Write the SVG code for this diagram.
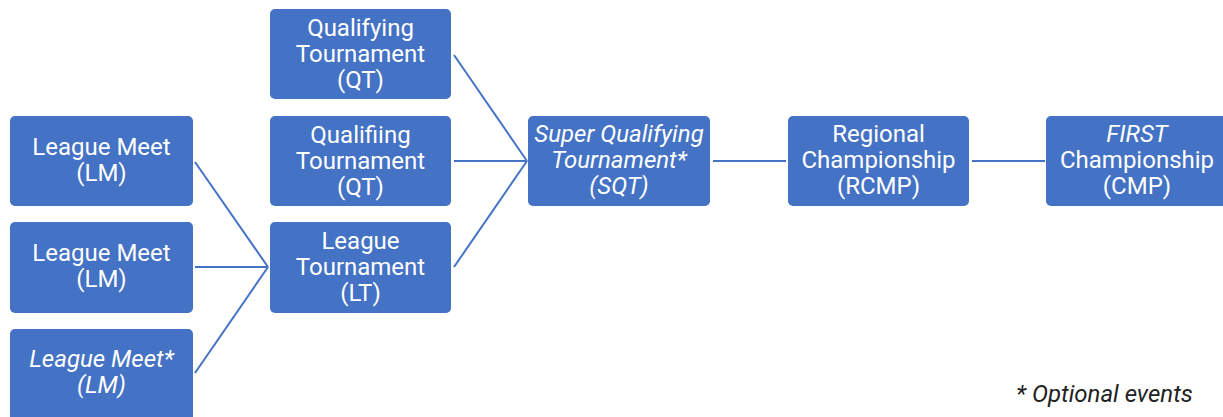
<svg xmlns="http://www.w3.org/2000/svg" width="1223" height="417" viewBox="0 0 1223 417">
<style>
.box{fill:#4472C4;}
.t{font-family:Roboto,"Liberation Sans",sans-serif;font-size:24px;fill:#ffffff;text-anchor:middle;}
.i{font-style:italic;}
.c{stroke:#4472C4;stroke-width:2;fill:none;}
.legend{font-family:Roboto,"Liberation Sans",sans-serif;font-size:24px;font-style:italic;fill:#222222;}
</style>
<rect width="1223" height="417" fill="#ffffff"/>
<g id="connectors">
<line class="c" x1="195" y1="162" x2="268" y2="267"/>
<line class="c" x1="195" y1="267" x2="268" y2="267"/>
<line class="c" x1="195" y1="373" x2="268" y2="267"/>
<line class="c" x1="454" y1="55" x2="527" y2="161"/>
<line class="c" x1="454" y1="161" x2="527" y2="161"/>
<line class="c" x1="454" y1="267" x2="527" y2="161"/>
<line class="c" x1="713" y1="161" x2="786" y2="161"/>
<line class="c" x1="972" y1="161" x2="1045" y2="161"/>
</g>
<g id="qt1">
<rect class="box" x="270" y="9" width="181" height="90" rx="5"/>
<text class="t" x="360.5" y="36">Qualifying</text>
<text class="t" x="360.5" y="62">Tournament</text>
<text class="t" x="360.5" y="88">(QT)</text>
</g>
<g id="qt2">
<rect class="box" x="270" y="116" width="181" height="90" rx="5"/>
<text class="t" x="360.5" y="143">Qualifiing</text>
<text class="t" x="360.5" y="169">Tournament</text>
<text class="t" x="360.5" y="195">(QT)</text>
</g>
<g id="lt">
<rect class="box" x="270" y="222" width="181" height="91" rx="5"/>
<text class="t" x="360.5" y="249">League</text>
<text class="t" x="360.5" y="275">Tournament</text>
<text class="t" x="360.5" y="301">(LT)</text>
</g>
<g id="lm1">
<rect class="box" x="10" y="116" width="183" height="90" rx="5"/>
<text class="t" x="101.5" y="155">League Meet</text>
<text class="t" x="101.5" y="181">(LM)</text>
</g>
<g id="lm2">
<rect class="box" x="10" y="222" width="183" height="91" rx="5"/>
<text class="t" x="101.5" y="261">League Meet</text>
<text class="t" x="101.5" y="287">(LM)</text>
</g>
<g id="lm3">
<rect class="box" x="10" y="329" width="183" height="92" rx="5"/>
<text class="t i" x="101.5" y="367">League Meet*</text>
<text class="t i" x="101.5" y="393">(LM)</text>
</g>
<g id="sqt">
<rect class="box" x="528" y="116" width="182" height="90" rx="5"/>
<text class="t i" x="619" y="142">Super Qualifying</text>
<text class="t i" x="619" y="168">Tournament*</text>
<text class="t i" x="619" y="194">(SQT)</text>
</g>
<g id="rcmp">
<rect class="box" x="788" y="116" width="181" height="90" rx="5"/>
<text class="t" x="878.5" y="142">Regional</text>
<text class="t" x="878.5" y="168">Championship</text>
<text class="t" x="878.5" y="194">(RCMP)</text>
</g>
<g id="cmp">
<rect class="box" x="1046" y="116" width="183" height="90" rx="5"/>
<text class="t" x="1137" y="142"><tspan class="i">FIRST</tspan></text>
<text class="t" x="1137" y="168">Championship</text>
<text class="t" x="1137" y="194">(CMP)</text>
</g>
<g id="legend">
<text class="legend" x="1016" y="402">* Optional events</text>
</g>
</svg>
